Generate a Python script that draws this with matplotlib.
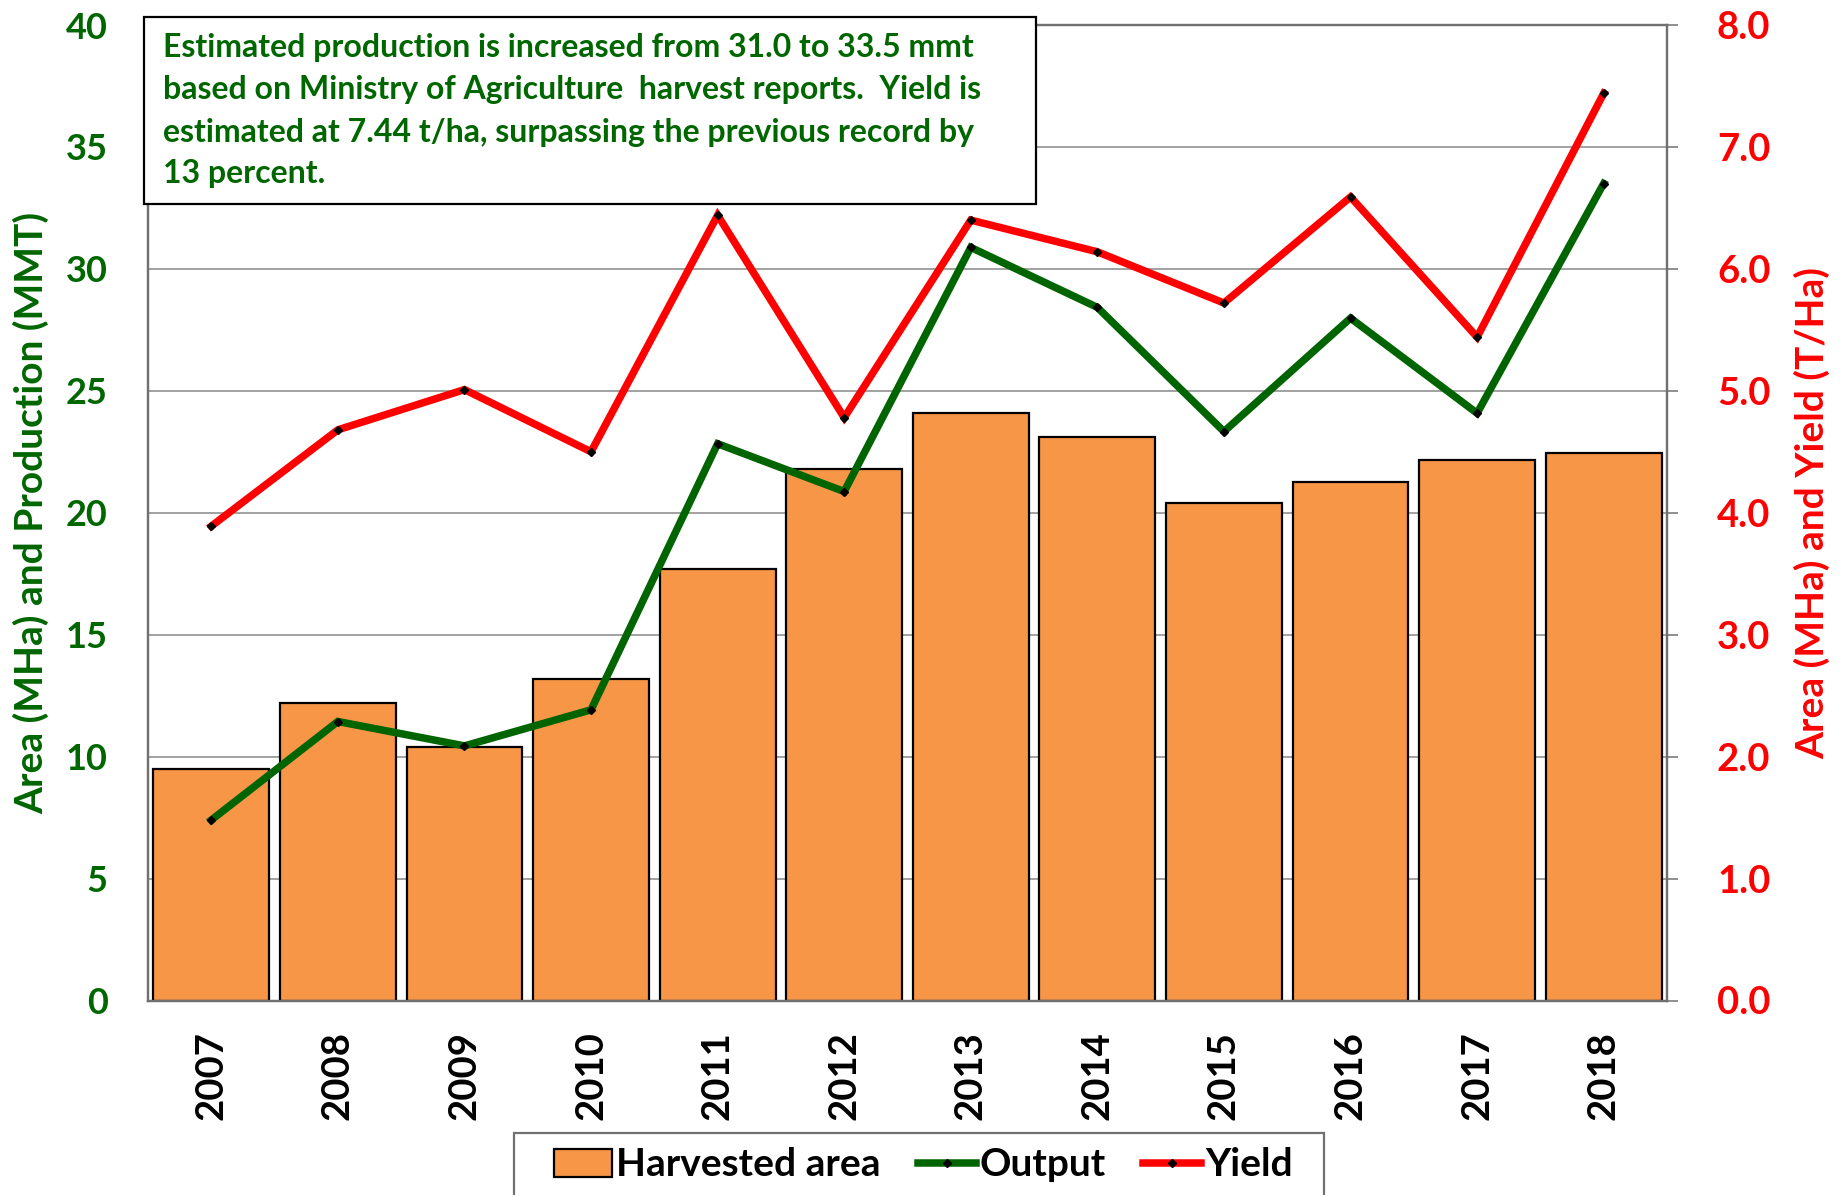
import numpy as np
import matplotlib
matplotlib.use('Agg')
import matplotlib.pyplot as plt
from matplotlib.patches import Rectangle, Patch
from matplotlib.lines import Line2D

plt.rcParams['font.family'] = ['Lato', 'DejaVu Sans']
plt.rcParams['font.weight'] = 'bold'

years = ['2007', '2008', '2009', '2010', '2011', '2012', '2013', '2014', '2015', '2016', '2017', '2018']
area = [1.90, 2.44, 2.08, 2.64, 3.54, 4.36, 4.82, 4.62, 4.08, 4.25, 4.43, 4.49]       # MHa, right axis
output = [7.4, 11.44, 10.44, 11.92, 22.83, 20.87, 30.88, 28.42, 23.33, 27.98, 24.08, 33.5]  # MMT, left axis
yields = [3.89, 4.68, 5.01, 4.50, 6.44, 4.78, 6.40, 6.14, 5.72, 6.59, 5.44, 7.44]    # T/Ha, right axis

left_ticks = [0, 5, 10, 15, 20, 25, 30, 35, 40]
right_ticks = [0, 1, 2, 3, 4, 5, 6, 7, 8]

note = ["Estimated production is increased from 31.0 to 33.5 mmt",
        "based on Ministry of Agriculture  harvest reports.  Yield is",
        "estimated at 7.44 t/ha, surpassing the previous record by",
        "13 percent."]

green_txt = '#006600'
green_line = '#006400'
red = '#FF0000'
orange = '#F79646'
spine_c = '#707070'
grid_c = '#888888'
lw_line = 5.4

W, H = 1841, 1195
fig = plt.figure(figsize=(W/100, H/100), dpi=100)

# main axes: right scale (area + yield), twin: left scale (production)
ax = fig.add_axes([148/W, 1-1000.5/H, (1667-148)/W, (1000.5-25)/H])
ax2 = ax.twinx()

x = np.arange(len(years))
ax.bar(x, area, width=0.915, color=orange, edgecolor='black', linewidth=1.6, zorder=2)
ax.plot(x, yields, color=red, lw=lw_line, marker='D', ms=4.5, mfc='black', mec='black',
        solid_joinstyle='miter', zorder=3)
ax.set_xlim(-0.5, len(years)-0.5)
ax.set_ylim(0, 8)
ax.set_yticks(right_ticks)
ax.set_yticklabels(['%.1f' % t for t in right_ticks], fontweight='bold')
ax.yaxis.tick_right()
ax.yaxis.set_label_position('right')
ax.tick_params(axis='y', direction='out', length=8, width=1.1, color=spine_c,
               labelcolor=red, labelsize=27.5, pad=28)
ax.set_xticks(x)
ax.set_xticklabels(years, rotation=90, fontsize=27.5, fontweight='bold')
ax.tick_params(axis='x', length=0, pad=22)
ax.grid(axis='y', color=grid_c, lw=1.1)
ax.set_axisbelow(True)
ax.set_ylabel('Area (MHa) and Yield (T/Ha)', color=red, fontsize=28, fontweight='bold')
ax.yaxis.set_label_coords(1.0836, 0.5)

ax2.plot(x, output, color=green_line, lw=lw_line, marker='D', ms=4.5, mfc='black', mec='black',
         solid_joinstyle='miter')
ax2.set_ylim(0, 40)
ax2.set_yticks(left_ticks)
ax2.set_yticklabels([str(t) for t in left_ticks], fontweight='bold')
ax2.yaxis.tick_left()
ax2.yaxis.set_label_position('left')
ax2.tick_params(axis='y', length=0, labelcolor=green_txt, labelsize=26, pad=29)
ax2.set_ylabel('Area (MHa) and Production (MMT)', color=green_txt, fontsize=28, fontweight='bold')
ax2.yaxis.set_label_coords(-0.065, 0.5)

for a in (ax, ax2):
    for s in a.spines.values():
        s.set_color(spine_c)
        s.set_linewidth(1.6)

# note box
fig.add_artist(Rectangle((144/W, 1-204/H), (1036-144)/W, (204-17)/H, transform=fig.transFigure,
                         facecolor='white', edgecolor='black', lw=1.6, zorder=5))
for i, line in enumerate(note):
    base = [57, 99, 142, 183][i]
    fig.text(163/W, 1-base/H, line, color=green_txt, fontsize=23, fontweight='bold',
             va='baseline', ha='left', zorder=6)

# legend
fig.add_artist(Rectangle((514/W, -0.02), (1324-514)/W, 0.02+1-1133/H, transform=fig.transFigure,
                         facecolor='white', edgecolor=spine_c, lw=1.6, zorder=5))
handles = [Patch(facecolor=orange, edgecolor='black', lw=1.6, label='Harvested area'),
           Line2D([], [], color=green_line, lw=lw_line, marker='D', ms=4.5, mfc='black', mec='black', label='Output'),
           Line2D([], [], color=red, lw=lw_line, marker='D', ms=4.5, mfc='black', mec='black', label='Yield')]
leg = fig.legend(handles=handles, ncol=3, loc='center left', bbox_to_anchor=(554/W, 1-1165/H),
                 frameon=False, borderpad=0, borderaxespad=0, fontsize=28, handlelength=1.5,
                 handletextpad=0.1, columnspacing=0.95)
leg.set_zorder(6)
for t in leg.get_texts():
    t.set_fontweight('bold')

fig.savefig('out.png', dpi=100)
